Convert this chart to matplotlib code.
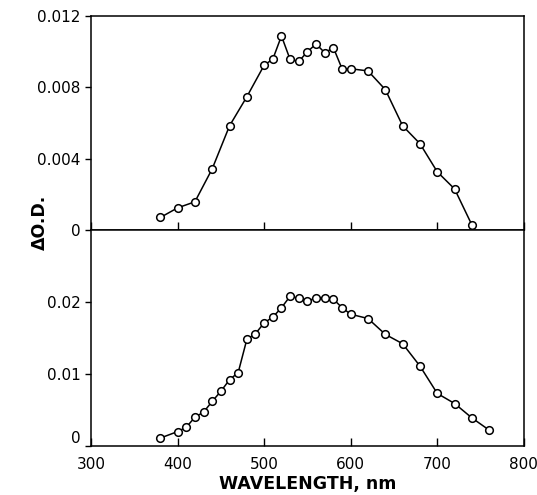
import matplotlib
matplotlib.use("Agg")
import matplotlib.pyplot as plt

# top panel
wl_top = [380, 400, 420, 440, 460, 480, 500, 510, 520, 530, 540, 550, 560,
          570, 580, 590, 600, 620, 640, 660, 680, 700, 720, 740]
od_top = [0.0007, 0.00124, 0.00158, 0.00343, 0.00584, 0.00747, 0.00924,
          0.00958, 0.01088, 0.00956, 0.00945, 0.0100, 0.01043, 0.00994,
          0.01022, 0.00904, 0.00904, 0.00892, 0.00787, 0.00584, 0.00484,
          0.00326, 0.0023, 0.00028]

# bottom panel
wl_bot = [380, 400, 410, 420, 430, 440, 450, 460, 470, 480, 490, 500, 510,
          520, 530, 540, 550, 560, 570, 580, 590, 600, 620, 640, 660, 680,
          700, 720, 740, 760]
od_bot = [0.0011, 0.0020, 0.0026, 0.0040, 0.0047, 0.0062, 0.0076, 0.0092,
          0.0102, 0.0148, 0.0156, 0.0171, 0.0179, 0.0192, 0.0208, 0.0205,
          0.0201, 0.0206, 0.0206, 0.0204, 0.0192, 0.0183, 0.0177, 0.0155,
          0.0142, 0.0111, 0.0073, 0.0059, 0.0039, 0.0022]

top_ticks = [0, 0.004, 0.008, 0.012]
top_labels = ["0", "0.004", "0.008", "0.012"]
bot_ticks = [0, 0.01, 0.02]
bot_labels = ["0", "0.01", "0.02"]
x_ticks = [300, 400, 500, 600, 700, 800]

fig = plt.figure(figsize=(5.37, 4.95), dpi=100)
ax1 = fig.add_axes([0.1695, 0.5354, 0.806, 0.4323])
ax2 = fig.add_axes([0.1695, 0.0990, 0.806, 0.4364])

style = dict(color="black", lw=1.1, marker="o", ms=5.5, mfc="white",
             mec="black", mew=1.1)
ax1.plot(wl_top, od_top, **style)
ax2.plot(wl_bot, od_bot, **style)

ax1.set_ylim(0, 0.012)
ax2.set_ylim(0, 0.03)
for ax in (ax1, ax2):
    ax.set_xlim(300, 800)
    ax.set_xticks(x_ticks)
    ax.tick_params(axis="x", direction="in", length=6, width=1.0,
                   labelsize=11, top=False, pad=8)
    ax.tick_params(axis="y", direction="out", length=4, width=1.0,
                   labelsize=11, right=False)
    for s in ax.spines.values():
        s.set_linewidth(1.1)

ax1.set_yticks(top_ticks)
ax1.set_yticklabels(top_labels)
ax1.set_xticklabels([])
ax2.set_yticks(bot_ticks)
ax2.set_yticklabels(bot_labels)
# lift the bottom "0" a little so it clears the "300" below it
ax2.get_yticklabels()[0].set_va("bottom")

ax2.set_xlabel("WAVELENGTH, nm", fontsize=12.5, fontweight="bold", labelpad=2)
fig.text(0.075, 1 - 222 / 495, "\u0394O.D.", rotation=90, fontsize=12.5,
         fontweight="bold", ha="center", va="center")

fig.savefig("out.png", dpi=100)
